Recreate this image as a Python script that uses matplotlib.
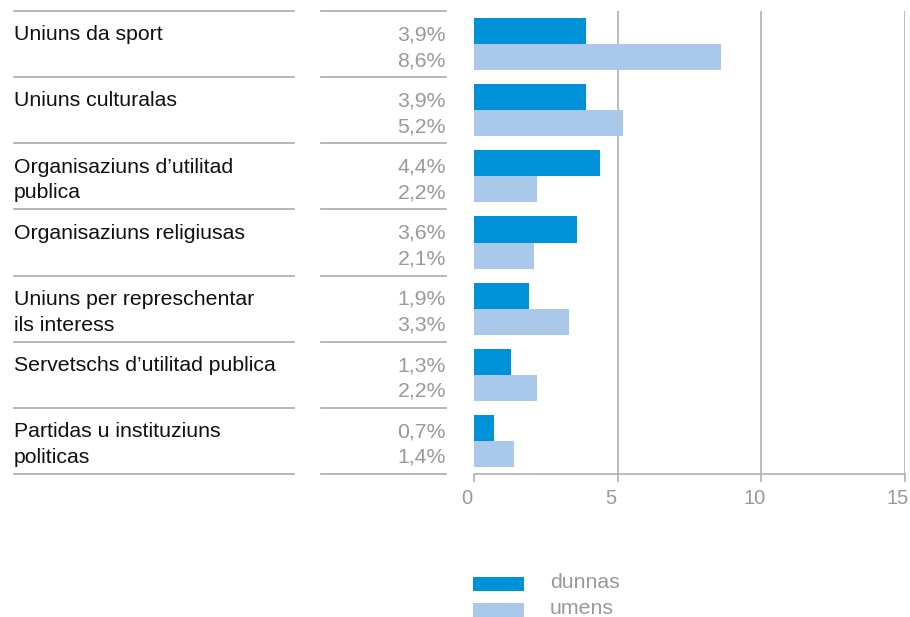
import matplotlib
matplotlib.use("Agg")
import matplotlib.pyplot as plt
import matplotlib.transforms as mtransforms
from matplotlib.patches import Rectangle

plt.rcParams['font.family'] = ['Liberation Sans', 'DejaVu Sans']

# Daten
categories = [
    "Uniuns da sport",
    "Uniuns culturalas",
    "Organisaziuns d\u2019utilitad\npublica",
    "Organisaziuns religiusas",
    "Uniuns per represchentar\nils interess",
    "Servetschs d\u2019utilitad publica",
    "Partidas u instituziuns\npoliticas",
]
dunnas = [3.9, 3.9, 4.4, 3.6, 1.9, 1.3, 0.7]
umens = [8.6, 5.2, 2.2, 2.1, 3.3, 2.2, 1.4]
xticks = [0, 5, 10, 15]
series_names = ["dunnas", "umens"]

dark = "#0092d8"
light = "#aac8ea"
gray_txt = "#999999"
line_col = "#aaaaaa"
fs = 15.3

W, H = 910, 617
fig = plt.figure(figsize=(W / 100, H / 100), dpi=100)

def fx(px):
    return px / W

def fy(py):
    return 1 - py / H

top, bottom = 11, 474
left, right = 474, 905
ax = fig.add_axes([fx(left), fy(bottom), fx(right - left), (bottom - top) / H])

n = len(categories)
bh = 0.394
ys = range(n)
ax.barh([i + 0.303 for i in ys], dunnas, height=bh, color=dark, zorder=3)
ax.barh([i + 0.697 for i in ys], umens, height=bh, color=light, zorder=3)

ax.set_xlim(0, 15)
ax.set_ylim(n, 0)
ax.set_yticks([])
for s in ["top", "left", "right"]:
    ax.spines[s].set_visible(False)
ax.spines["bottom"].set_color("#b0b0b0")
ax.spines["bottom"].set_linewidth(1.2)
ax.set_xticks(xticks)
ax.set_xticklabels([str(t) for t in xticks])
ax.tick_params(axis="x", length=6, width=1.2, color="#b0b0b0", labelcolor=gray_txt,
               labelsize=14.5, pad=5)
offset = mtransforms.ScaledTranslation(-7 / 100, 0, fig.dpi_scale_trans)
for lab in ax.get_xticklabels():
    lab.set_transform(lab.get_transform() + offset)
for t in xticks[1:]:
    ax.axvline(t, color="#b0b0b0", linewidth=1.2, zorder=1)

# Kategorien, Werte und Trennlinien
tr = mtransforms.blended_transform_factory(fig.transFigure, ax.transData)
for i in range(n + 1):
    ax.plot([fx(14), fx(294)], [i, i], color=line_col, linewidth=1.2,
            transform=tr, clip_on=False)
    ax.plot([fx(321), fx(446)], [i, i], color=line_col, linewidth=1.2,
            transform=tr, clip_on=False)

for i, cat in enumerate(categories):
    lines = cat.split("\n")
    for j, line in enumerate(lines):
        ax.text(fx(14), i + 0.36 + j * 0.39, line, transform=tr, ha="left",
                va="center", fontsize=fs, color="#111111")
    ax.text(fx(446), i + 0.36, f"{dunnas[i]:.1f}%".replace(".", ","), transform=tr,
            ha="right", va="center", fontsize=fs, color=gray_txt)
    ax.text(fx(446), i + 0.75, f"{umens[i]:.1f}%".replace(".", ","), transform=tr,
            ha="right", va="center", fontsize=fs, color=gray_txt)

# Legende
for k, (name, col) in enumerate(zip(series_names, [dark, light])):
    y0 = 577 + k * 26
    fig.add_artist(Rectangle((fx(473), fy(y0 + 14)), fx(51), 14 / H,
                             transform=fig.transFigure, color=col, linewidth=0))
    fig.text(fx(550), fy(y0 + 5), name, ha="left", va="center",
             fontsize=fs, color=gray_txt)

fig.savefig("out.png", dpi=100)
